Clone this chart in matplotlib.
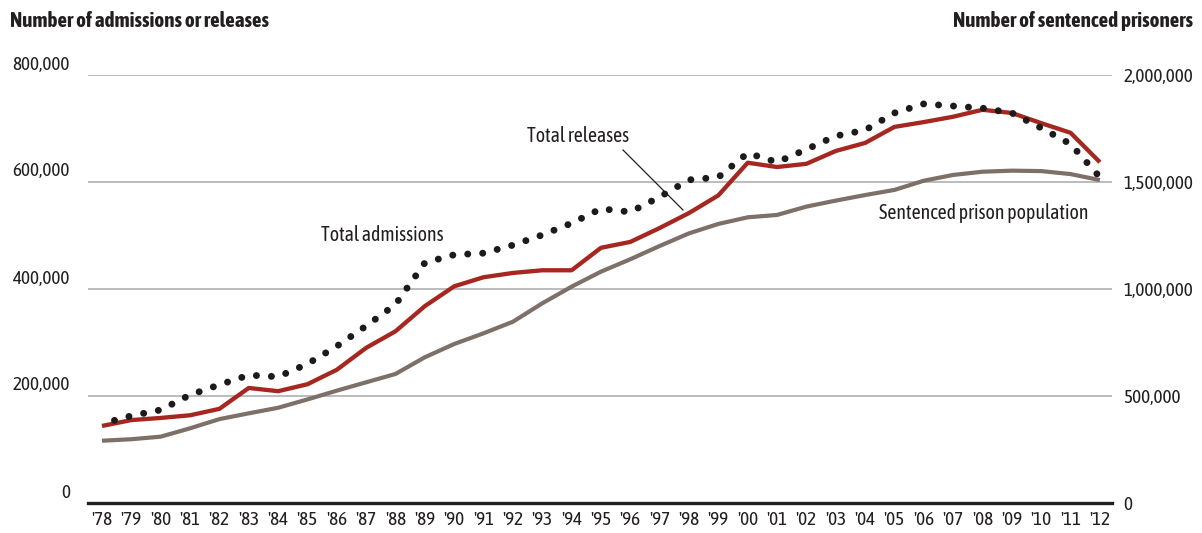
import matplotlib
matplotlib.use("Agg")
import matplotlib.pyplot as plt
from matplotlib import font_manager
from matplotlib.transforms import ScaledTranslation
from matplotlib.ticker import FuncFormatter

# ---------------- data ----------------
years = list(range(1978, 2013))
year_labels = ["'%02d" % (y % 100) for y in years]
# thousands
releases = [144, 155, 159, 164, 176, 215, 209, 222, 249, 290, 321, 368, 405, 422, 430,
            435, 435, 477, 488, 514, 542, 575, 636, 628, 634, 658, 673, 703, 712, 722,
            735, 729, 710, 692, 637]
admissions = [148, 163, 174, 202, 221, 239, 236, 260, 293, 331, 371, 449, 464, 467, 482,
              501, 523, 550, 544, 572, 604, 609, 654, 637, 661, 686, 697, 729, 746, 742,
              738, 729, 701, 671, 609]
population = [291, 298, 310, 349, 392, 419, 445, 484, 525, 564, 603, 681, 743, 793, 847,
              933, 1011, 1081, 1139, 1201, 1260, 1304, 1335, 1346, 1385, 1413, 1439, 1463,
              1506, 1533, 1548, 1553, 1551, 1537, 1509]
releases = [v * 1000 for v in releases]
admissions = [v * 1000 for v in admissions]
population = [v * 1000 for v in population]
left_ticks = [0, 200000, 400000, 600000, 800000]
right_ticks = [0, 500000, 1000000, 1500000, 2000000]

# ---------------- fonts ----------------
installed = set(f.name for f in font_manager.fontManager.ttflist)
fam = "DejaVu Sans"
for c in ["Asap Condensed", "PT Sans Narrow", "Fira Sans Condensed", "Barlow Condensed",
          "Liberation Sans Narrow", "Liberation Sans"]:
    if c in installed:
        fam = c
        break
plt.rcParams['font.family'] = [fam, 'DejaVu Sans']
TXT = '#231f20'
RED = '#a6271f'
GRAY = '#7d7068'

W, H = 1202, 533
fig = plt.figure(figsize=(W / 100, H / 100), dpi=100)
renderer = fig.canvas.get_renderer()


def fit_size(text, width_px, weight='normal'):
    t = fig.text(0, 0, text, fontsize=20, fontweight=weight)
    w = t.get_window_extent(renderer=renderer).width
    t.remove()
    return 20 * width_px / w


TICK_FS = fit_size("2,000,000", 70)
ANN_FS = fit_size("Sentenced prison population", 210)
TITLE_FS = fit_size("Number of admissions or releases", 257, 'bold')

L, R, B, T = 88, 1112, 503, 75
ax2 = fig.add_axes([L / W, 1 - B / H, (R - L) / W, (B - T) / H])
ax = ax2.twinx()
ax.set_zorder(ax2.get_zorder() + 1)
ax.patch.set_visible(False)

x0 = 1978 - 14 / 29.35
x1 = 1978 + 1010 / 29.35
ax2.set_xlim(x0, x1)
for a in (ax, ax2):
    for s in a.spines.values():
        s.set_visible(False)

# population on ax2 (right scale)
ax2.set_ylim(0, 2000000)
ax2.set_yticks(right_ticks)
ax2.yaxis.set_major_formatter(FuncFormatter(lambda v, p: f"{int(v):,}"))
ax2.yaxis.tick_right()
ax2.grid(axis='y', color='#a7a9ac', linewidth=1.1)
ax2.set_axisbelow(True)
ax2.plot(years, population, color=GRAY, linewidth=3.0, solid_capstyle='butt', zorder=2)
ax2.tick_params(axis='y', length=0, pad=8, labelsize=TICK_FS, labelcolor=TXT)
ax2.set_xticks(years)
ax2.set_xticklabels(year_labels)
ax2.tick_params(axis='x', length=0, pad=6, labelsize=TICK_FS, labelcolor=TXT)

# admissions / releases on ax (left scale)
ax.set_ylim(0, 800000)
ax.yaxis.tick_left()
ax.set_yticks(left_ticks)
ax.yaxis.set_major_formatter(FuncFormatter(lambda v, p: f"{int(v):,}"))
ax.tick_params(axis='y', length=0, pad=13, labelsize=TICK_FS, labelcolor=TXT)
ax.tick_params(axis='x', bottom=False, labelbottom=False, top=False, labeltop=False)
ax.plot(years, releases, color=RED, linewidth=3.1, solid_capstyle='butt', zorder=3)
ax.plot(years, admissions, color='#1e1a1b', linewidth=5.0,
        linestyle=(0.3, (0.01, 2.15)), dash_capstyle='round', zorder=4)
ax.axhline(0, color=TXT, linewidth=2.4, zorder=5, clip_on=False)

off = ScaledTranslation(0, 9 / 72, fig.dpi_scale_trans)
for lab in ax.get_yticklabels():
    lab.set_transform(lab.get_transform() + off)

for a in (ax, ax2):
    for ln in a.get_lines():
        ln.set_clip_on(False)

# annotations (pixel positions -> axes fraction)
def fa(x, y):
    return (x - L) / (R - L), (B - y) / (B - T)

ax.text(*fa(321, 241), "Total admissions", transform=ax.transAxes, fontsize=ANN_FS,
        color=TXT, ha='left', va='baseline')
ax.text(*fa(527, 142), "Total releases", transform=ax.transAxes, fontsize=ANN_FS,
        color=TXT, ha='left', va='baseline')
ax.text(*fa(879, 219), "Sentenced prison population", transform=ax.transAxes,
        fontsize=ANN_FS, color=TXT, ha='left', va='baseline')
p1, p2 = fa(623, 150), fa(683, 210)
ax.plot([p1[0], p2[0]], [p1[1], p2[1]], transform=ax.transAxes, color=TXT,
        linewidth=0.9, zorder=6, clip_on=False)

fig.text(10 / W, 1 - 27 / H, "Number of admissions or releases", fontsize=TITLE_FS,
         fontweight='bold', color=TXT, ha='left', va='baseline')
fig.text(1193 / W, 1 - 27 / H, "Number of sentenced prisoners", fontsize=TITLE_FS,
         fontweight='bold', color=TXT, ha='right', va='baseline')

fig.savefig("out.png", dpi=100)
